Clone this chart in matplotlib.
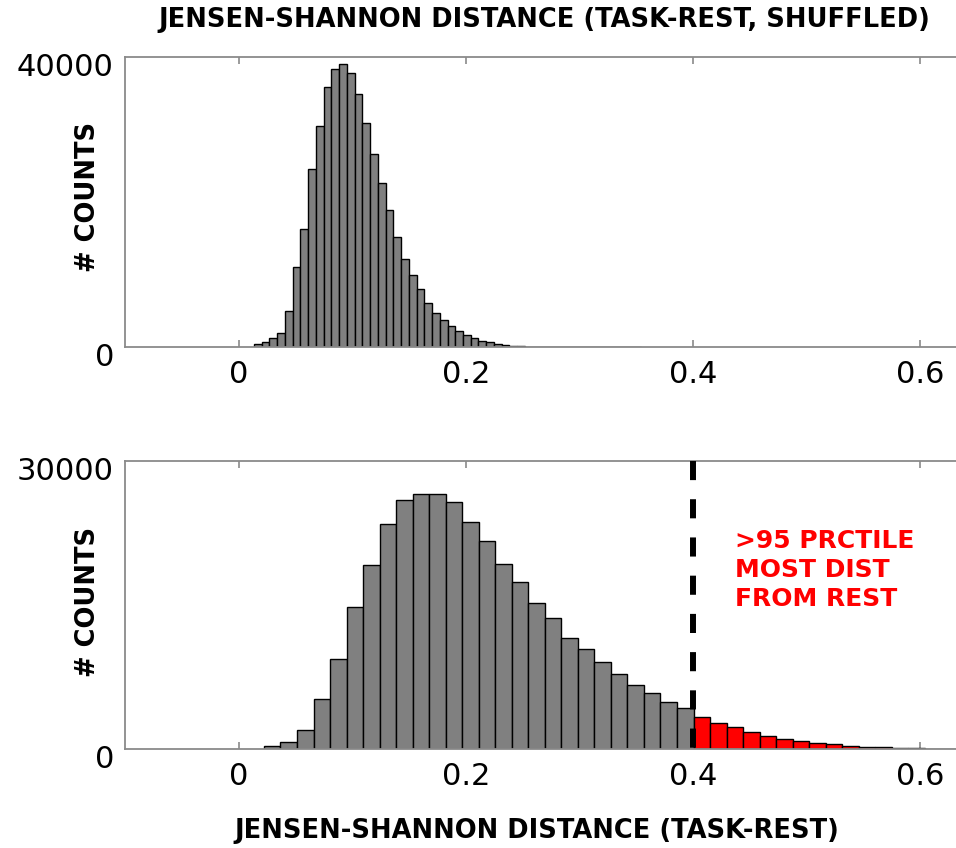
import numpy as np
import matplotlib
matplotlib.use("Agg")
import matplotlib.pyplot as plt
from matplotlib.transforms import ScaledTranslation

# ---------------- data ----------------
# Top: shuffled task-rest JS distance histogram (50 bins)
top_range = (0.0132, 0.3542)
top_counts = [370, 730, 1280, 1890, 5000, 11000, 16300, 24550, 30480, 35800,
              38300, 38990, 37830, 34850, 30850, 26660, 22660, 18850, 15210, 12180,
              9890, 7960, 6030, 4730, 3720, 2900, 2250, 1700, 1200, 870,
              640, 460, 320, 150, 100, 60, 40, 25, 15, 10,
              6, 4, 3, 2, 1, 1, 0, 0, 0, 1]

# Bottom: task-rest JS distance histogram (50 bins)
bot_range = (0.022, 0.7497)
bot_counts = [340, 700, 1980, 5180, 9380, 14830, 19170, 23440, 25940, 26560,
              26560, 25700, 23680, 21670, 19270, 17370, 15240, 13620, 11600, 10450,
              9060, 7850, 6670, 5800, 4930, 4240, 3300, 2740, 2320, 1800,
              1350, 1070, 830, 660, 490, 280, 200, 170, 100, 70,
              50, 40, 30, 20, 12, 8, 5, 3, 2, 1]

threshold = 0.4  # 95th percentile
xticks = [0, 0.2, 0.4, 0.6]
xticklabels = ["0", "0.2", "0.4", "0.6"]
top_yticks = [0, 40000]
bot_yticks = [0, 30000]

title_text = "JENSEN-SHANNON DISTANCE (TASK-REST, SHUFFLED)"
xlabel_text = "JENSEN-SHANNON DISTANCE (TASK-REST)"
ylabel_text = "# COUNTS"
annot_text = ">95 PRCTILE\nMOST DIST\nFROM REST"

# ---------------- figure ----------------
W, H = 956, 848
fig = plt.figure(figsize=(W / 100, H / 100), dpi=100)

def px_axes(left, top, right, bottom):
    return fig.add_axes([left / W, 1 - bottom / H, (right - left) / W, (bottom - top) / H])

ax1 = px_axes(125, 57, 961, 347)
ax2 = px_axes(125, 461, 961, 749)

SPINE = "#8a8a8a"
TICKFS = 22
LABFS = 18.5

def style(ax, yticks):
    ax.set_xlim(-0.1004, 0.636)
    ax.set_ylim(yticks[0], yticks[-1])
    ax.set_xticks(xticks)
    ax.set_xticklabels(xticklabels)
    ax.set_yticks(yticks)
    ax.set_yticklabels([str(v) for v in yticks])
    for s in ax.spines.values():
        s.set_color(SPINE)
        s.set_linewidth(1.3)
    ax.tick_params(axis="x", direction="in", length=5, width=1.2, color=SPINE,
                   top=True, bottom=True, labelsize=TICKFS, pad=9.5)
    ax.tick_params(axis="y", direction="in", length=0, labelsize=TICKFS, pad=8)
    off = ScaledTranslation(0, -7 / 100, fig.dpi_scale_trans)
    for lab in ax.get_yticklabels():
        lab.set_transform(lab.get_transform() + off)

def draw_hist(ax, counts, rng, thr=None):
    edges = np.linspace(rng[0], rng[1], len(counts) + 1)
    lefts = edges[:-1]
    widths = np.diff(edges)
    colors = ["#808080" if (thr is None or l < thr - 1e-9) else "#ff0000" for l in lefts]
    ax.bar(lefts, counts, width=widths, align="edge", color=colors,
           edgecolor="black", linewidth=1.0, zorder=2, clip_on=True)

draw_hist(ax1, top_counts, top_range)
style(ax1, top_yticks)

draw_hist(ax2, bot_counts, bot_range, threshold)
style(ax2, bot_yticks)

ax2.plot([threshold, threshold], [1, 0], transform=ax2.get_xaxis_transform(),
         color="black", linewidth=4.3, linestyle=(0, (3.2, 3.2)),
         dash_capstyle="butt", zorder=4, clip_on=False)

ax2.text((735 - 125) / 836, (749 - 529) / 288, annot_text, transform=ax2.transAxes,
         color="#ff0000", fontsize=18, fontweight="bold", ha="left", va="top",
         linespacing=1.25)

fig.text(544 / W, 1 - 20 / H, title_text, ha="center", va="center",
         fontsize=LABFS, fontweight="bold")
fig.text(537 / W, 1 - 831 / H, xlabel_text, ha="center", va="center",
         fontsize=LABFS, fontweight="bold")
fig.text(88 / W, 1 - 197 / H, ylabel_text, ha="center", va="center",
         rotation=90, fontsize=LABFS, fontweight="bold")
fig.text(88 / W, 1 - 602 / H, ylabel_text, ha="center", va="center",
         rotation=90, fontsize=LABFS, fontweight="bold")

fig.savefig("out.png", dpi=100)
